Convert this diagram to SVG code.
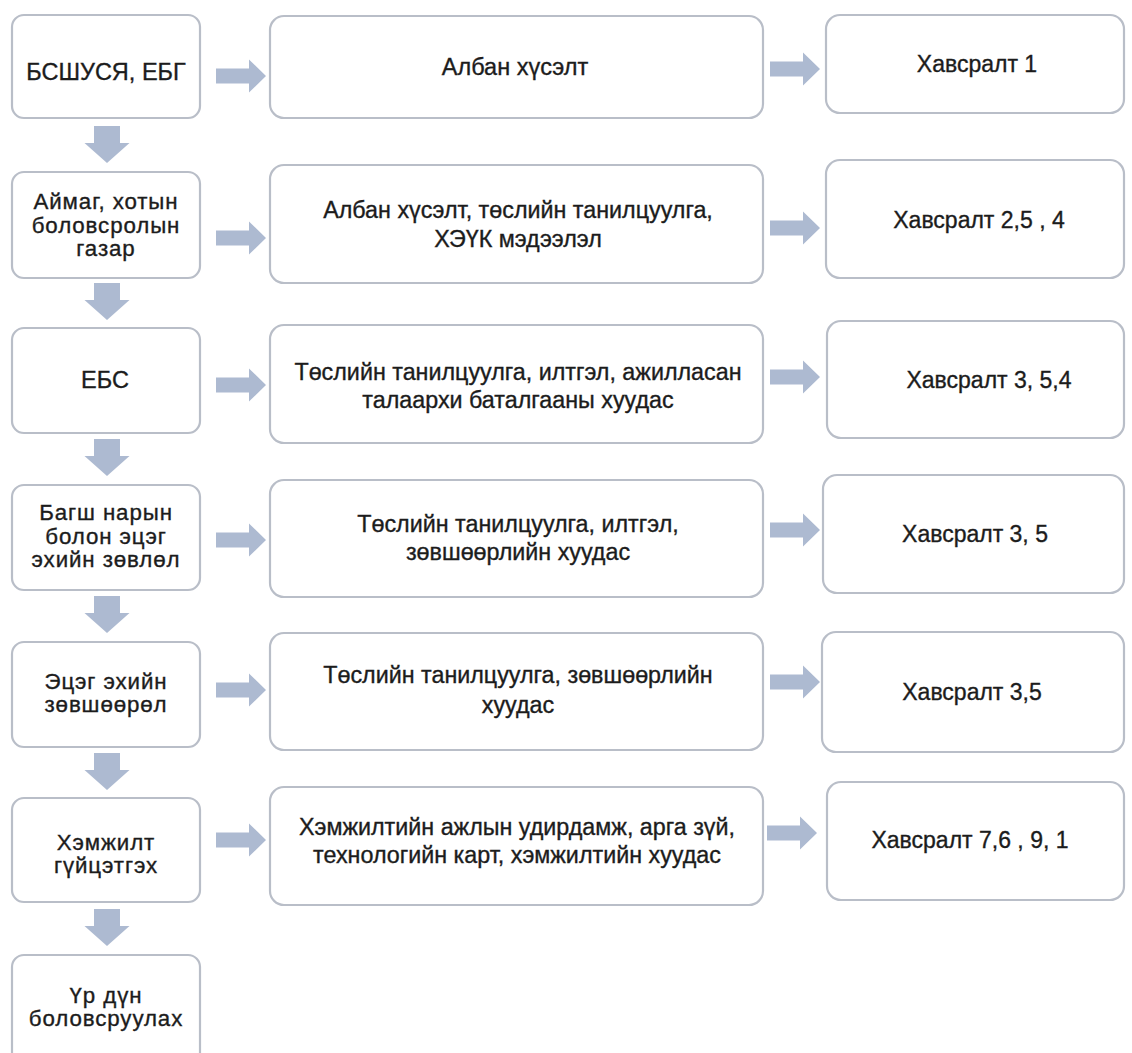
<svg xmlns="http://www.w3.org/2000/svg" width="1132" height="1053" viewBox="0 0 1132 1053">
<style>
.box{fill:#ffffff;stroke:#b9bec8;stroke-width:2.2}
.arr{fill:#adbad1}
text{font-family:"Liberation Sans",Arial,sans-serif;fill:#1c1c1c;stroke:#1c1c1c;stroke-width:0.35;text-anchor:middle}
.l{font-size:22.3px;letter-spacing:0.9px}
.l1{font-size:23.5px}
.m{font-size:23.3px}
.r{font-size:23px}
</style>
<defs>
<path id="ra" d="M0,-7.5 H33 V-16.5 L50,0 L33,16.5 V7.5 H0 Z"/>
<path id="da" d="M-13,0 H13 V17 H22.5 L0,37 L-22.5,17 H-13 Z"/>
</defs>
<rect width="1132" height="1053" fill="#ffffff"/>

<g id="connectors">
<use href="#ra" class="arr" x="216" y="76"/>
<use href="#ra" class="arr" x="216" y="238"/>
<use href="#ra" class="arr" x="216" y="385"/>
<use href="#ra" class="arr" x="216" y="540"/>
<use href="#ra" class="arr" x="216" y="690"/>
<use href="#ra" class="arr" x="216" y="840"/>
<use href="#ra" class="arr" x="770" y="69"/>
<use href="#ra" class="arr" x="770" y="228"/>
<use href="#ra" class="arr" x="770" y="377"/>
<use href="#ra" class="arr" x="770" y="530"/>
<use href="#ra" class="arr" x="770" y="682"/>
<use href="#ra" class="arr" x="767" y="833"/>
<use href="#da" class="arr" x="107" y="126"/>
<use href="#da" class="arr" x="107" y="283"/>
<use href="#da" class="arr" x="107" y="439"/>
<use href="#da" class="arr" x="107" y="596"/>
<use href="#da" class="arr" x="107" y="753"/>
<use href="#da" class="arr" x="107" y="909"/>
</g>

<g id="n-l1"><rect class="box" x="12" y="15" width="188" height="103" rx="12"/><text class="l1" x="106" y="80">БСШУСЯ, ЕБГ</text></g>
<g id="n-l2"><rect class="box" x="12" y="172" width="188" height="106" rx="12"/><text class="l" x="106" y="209">Аймаг, хотын</text><text class="l" x="106" y="232.5">боловсролын</text><text class="l" x="106" y="256">газар</text></g>
<g id="n-l3"><rect class="box" x="12" y="328" width="188" height="105" rx="12"/><text class="l1" x="105" y="388">ЕБС</text></g>
<g id="n-l4"><rect class="box" x="12" y="485" width="188" height="105" rx="12"/><text class="l" x="106" y="520">Багш нарын</text><text class="l" x="106" y="543.5">болон эцэг</text><text class="l" x="106" y="567">эхийн зөвлөл</text></g>
<g id="n-l5"><rect class="box" x="12" y="642" width="188" height="105" rx="12"/><text class="l" x="106" y="688.5">Эцэг эхийн</text><text class="l" x="106" y="712">зөвшөөрөл</text></g>
<g id="n-l6"><rect class="box" x="12" y="798" width="188" height="104" rx="12"/><text class="l" x="106" y="849.5">Хэмжилт</text><text class="l" x="106" y="873">гүйцэтгэх</text></g>
<g id="n-l7"><rect class="box" x="12" y="955" width="188" height="110" rx="12"/><text class="l" x="106" y="1002.5">Үр дүн</text><text class="l" x="106" y="1026">боловсруулах</text></g>

<g id="n-m1"><rect class="box" x="270" y="16" width="493" height="102" rx="14"/><text class="l1" x="515" y="75">Албан хүсэлт</text></g>
<g id="n-m2"><rect class="box" x="270" y="165" width="493" height="118" rx="14"/><text class="m" x="518" y="218">Албан хүсэлт, төслийн танилцуулга,</text><text class="m" x="518" y="247">ХЭҮК мэдээлэл</text></g>
<g id="n-m3"><rect class="box" x="270" y="325" width="493" height="118" rx="14"/><text class="m" x="518" y="380">Төслийн танилцуулга, илтгэл, ажилласан</text><text class="m" x="518" y="408">талаархи баталгааны хуудас</text></g>
<g id="n-m4"><rect class="box" x="270" y="480" width="493" height="117" rx="14"/><text class="m" x="518" y="532">Төслийн танилцуулга, илтгэл,</text><text class="m" x="518" y="560">зөвшөөрлийн хуудас</text></g>
<g id="n-m5"><rect class="box" x="270" y="633" width="493" height="117" rx="14"/><text class="m" x="518" y="683">Төслийн танилцуулга, зөвшөөрлийн</text><text class="m" x="518" y="713">хуудас</text></g>
<g id="n-m6"><rect class="box" x="270" y="787" width="493" height="118" rx="14"/><text class="m" x="517" y="835">Хэмжилтийн ажлын удирдамж, арга зүй,</text><text class="m" x="517" y="863">технологийн карт, хэмжилтийн хуудас</text></g>

<g id="n-r1"><rect class="box" x="826" y="15" width="298" height="98" rx="14"/><text class="r" x="977" y="72">Хавсралт 1</text></g>
<g id="n-r2"><rect class="box" x="826" y="160" width="298" height="118" rx="14"/><text class="r" x="979" y="228">Хавсралт 2,5 , 4</text></g>
<g id="n-r3"><rect class="box" x="827" y="321" width="297" height="117" rx="14"/><text class="r" x="989" y="388">Хавсралт 3, 5,4</text></g>
<g id="n-r4"><rect class="box" x="823" y="475" width="301" height="118" rx="14"/><text class="r" x="975" y="542">Хавсралт 3, 5</text></g>
<g id="n-r5"><rect class="box" x="822" y="632" width="302" height="120" rx="14"/><text class="r" x="972" y="700">Хавсралт 3,5</text></g>
<g id="n-r6"><rect class="box" x="827" y="782" width="297" height="118" rx="14"/><text class="r" x="970" y="848">Хавсралт 7,6 , 9, 1</text></g>
</svg>
